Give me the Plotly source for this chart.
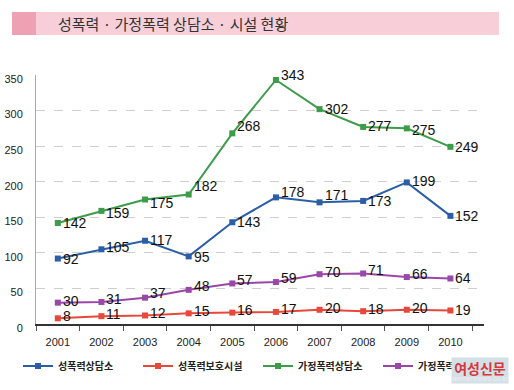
import plotly.graph_objects as go

years = ["2001", "2002", "2003", "2004", "2005", "2006", "2007", "2008", "2009", "2010"]
sv_counsel = [92, 105, 117, 95, 143, 178, 171, 173, 199, 152]
sv_shelter = [8, 11, 12, 15, 16, 17, 20, 18, 20, 19]
dv_counsel = [142, 159, 175, 182, 268, 343, 302, 277, 275, 249]
dv_shelter = [30, 31, 37, 48, 57, 59, 70, 71, 66, 64]
names = ["성폭력상담소", "성폭력보호시설", "가정폭력상담소", "가정폭력보호시설"]
title = "성폭력 · 가정폭력 상담소 · 시설 현황"

colors = ["#2b5ea6", "#e8483a", "#3c9c4a", "#9a48a8"]

# label vertical nudges in pixels (positive = up), styling only
label_shift = [
    [0, 2, 1, -1, 0, 5, 7, 0, 1, 0],
    [2, 2, 2, 2, 3, 3, 2, 2, 2, 0],
    [0, -2, -3, 9, 7, 5, 0, 1, -2, 0],
    [2, 3, 5, 4, 3, 4, 2, 3, 3, 0],
]

W, H = 514, 390
L, R, T, B = 36, 30, 75, 66
PW, PH = W - L - R, H - T - B


def px(x):
    return (x - L) / PW


def py(y):
    return (H - B - y) / PH


fig = go.Figure()
annotations = []
series = [sv_counsel, sv_shelter, dv_counsel, dv_shelter]
for name, vals, col, shifts in zip(names, series, colors, label_shift):
    fig.add_trace(go.Scatter(
        x=years, y=vals, name=name, mode="lines+markers",
        line=dict(color=col, width=2),
        marker=dict(symbol="square", size=6, color=col),
        cliponaxis=False,
    ))
    for i, (yv, s) in enumerate(zip(vals, shifts)):
        annotations.append(dict(
            x=i, y=yv, xref="x", yref="y", text=str(yv), showarrow=False,
            xanchor="left", yanchor="middle", xshift=3, yshift=s,
            font=dict(family="Liberation Sans, Arial", size=14, color="#111"),
        ))

annotations += [
    dict(text=title, xref="paper", yref="paper", x=px(56), y=py(23.5),
         xanchor="left", yanchor="middle", showarrow=False,
         font=dict(family="Noto Sans CJK KR", size=15, color="#333")),
    dict(text="<b>여성신문</b>",
         xref="paper", yref="paper", x=px(480), y=py(370.5),
         xanchor="center", yanchor="middle", showarrow=False, valign="top",
         bgcolor="#d2e0e7", width=56, height=25, borderpad=0,
         font=dict(family="Noto Sans CJK KR", size=14, color="#d8383c")),
    dict(text="womennews.co.kr",
         xref="paper", yref="paper", x=px(480), y=py(378),
         xanchor="center", yanchor="middle", showarrow=False,
         font=dict(family="Liberation Sans, Arial", size=7, color="#f6eaf0")),
]

fig.update_layout(
    width=W, height=H,
    margin=dict(l=L, r=R, t=T, b=B, autoexpand=False),
    paper_bgcolor="white", plot_bgcolor="white",
    font=dict(family="Liberation Sans, Arial", color="#222"),
    showlegend=True,
    legend=dict(
        orientation="h", xref="paper", yref="paper",
        x=px(18), y=py(366), xanchor="left", yanchor="middle",
        font=dict(family="Noto Sans CJK KR", size=10, color="#222", weight=700),
        entrywidth=75, entrywidthmode="pixels",
        traceorder="normal", bgcolor="rgba(0,0,0,0)",
    ),
    xaxis=dict(
        type="category", range=[-0.5, 9.77], showgrid=False, automargin=False,
        showline=True, linecolor="#333", linewidth=1.5,
        ticks="outside", tickson="boundaries", ticklen=5, tickcolor="#555",
        ticklabelstandoff=7,
        tickfont=dict(size=11, color="#222"), fixedrange=True,
    ),
    yaxis=dict(
        range=[0, 350], tick0=0, dtick=50, automargin=False,
        showgrid=True, gridcolor="#cfcfcf", griddash="dash", gridwidth=1,
        showline=True, linecolor="#aaa", linewidth=1, zeroline=False,
        ticks="", ticklabelstandoff=10, ticklabelshift=4,
        tickfont=dict(family="Liberation Sans Narrow, Liberation Sans", size=11, color="#222"),
        fixedrange=True,
    ),
    shapes=[
        dict(type="rect", xref="paper", yref="paper", x0=px(12), x1=px(499),
             y0=py(35), y1=py(12),
             fillcolor="#f8cfd8", line=dict(width=0), layer="below"),
        dict(type="rect", xref="paper", yref="paper", x0=px(12), x1=px(36),
             y0=py(35), y1=py(12),
             fillcolor="#eea1b2", line=dict(width=0), layer="below"),
    ],
    annotations=annotations,
)

fig.write_html("out.html", config={"displayModeBar": False},
               post_script="document.body.style.margin='0';")
